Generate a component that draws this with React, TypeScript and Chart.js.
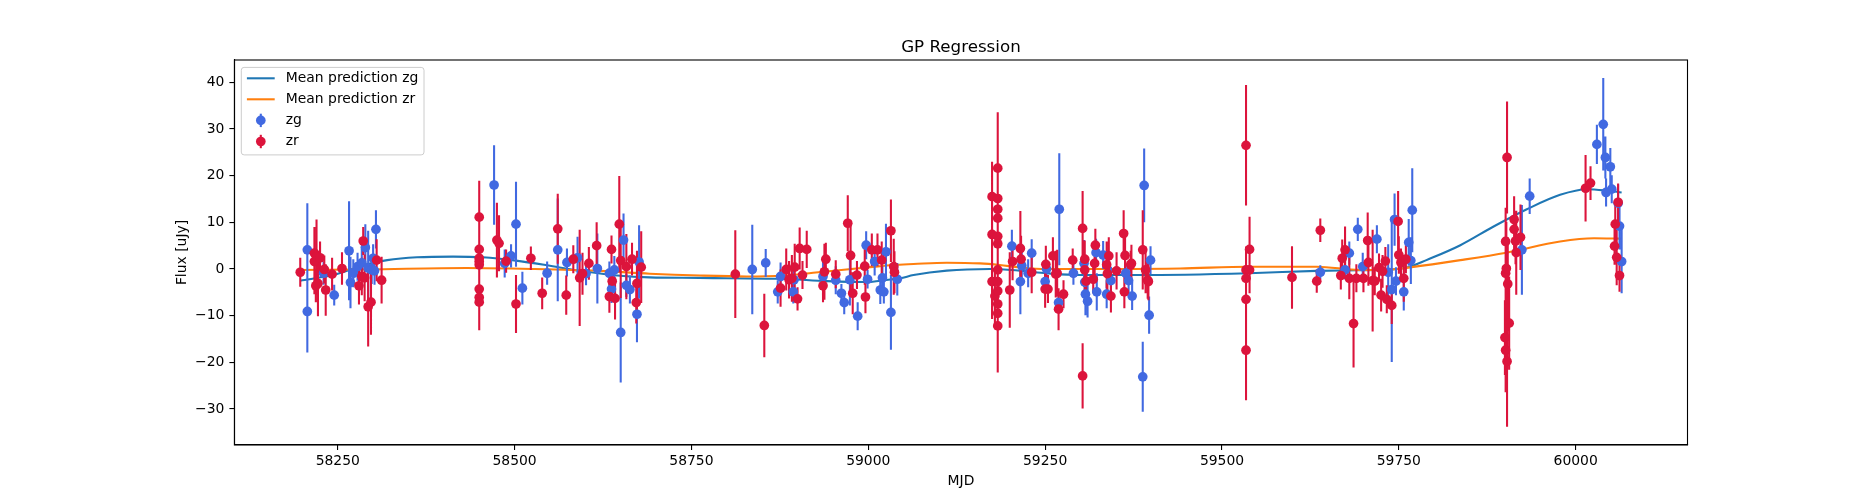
import { useEffect, useRef } from "react";
import { Chart, registerables } from "chart.js";
import type { ChartConfiguration, Plugin } from "chart.js";

Chart.register(...registerables);

const FONT = "'DejaVu Sans', sans-serif";
const ZG_COLOR = "#4169E1"; // royalblue
const ZR_COLOR = "#DC143C"; // crimson
const ZG_LINE = "#1f77b4";
const ZR_LINE = "#ff7f0e";

// ---- zg photometry: MJD, flux [uJy], 1-sigma error ----
const ZG_MJD = [
  58207, 58207, 58230, 58245, 58266, 58268, 58272, 58278, 58284, 58289, 58293, 58298, 58300, 58302, 58304,
  58471, 58486, 58495, 58502, 58511, 58546, 58561, 58574, 58589, 58601, 58617, 58634, 58637, 58641, 58650, 58654, 58658, 58663, 58673, 58676,
  58836, 58855, 58872, 58876, 58894, 58895, 58936, 58954, 58962, 58966, 58974, 58985, 58997, 58999, 59009, 59017, 59020, 59022, 59025, 59032, 59041,
  59203, 59215, 59217, 59226, 59231, 59250, 59252, 59269, 59270, 59290, 59305, 59306, 59307, 59310, 59322, 59323, 59332, 59337, 59343, 59364, 59368, 59373, 59388, 59390, 59397, 59399,
  59639, 59674, 59680, 59692, 59699, 59719, 59735, 59740, 59744, 59746, 59757, 59764, 59767, 59769,
  59924, 59935, 60030, 60039, 60042, 60043, 60049, 60051, 60060, 60062, 60065,
];
const ZG_FLUX = [
  4.1, -9.1, -0.9, -5.6, 3.9, -2.9, -0.9, 0.5, 1.3, 4.6, 0.2, -0.2, 2.3, -0.4, 8.5,
  18.0, 1.2, 2.8, 9.6, -4.1, -0.9, 4.1, 1.4, 2.4, -1.0, 0.1, -0.9, -4.3, -0.2, -13.6, 6.2, -3.5, -4.4, -9.7, 1.5,
  -0.1, 1.3, -4.9, -1.6, -4.9, -2.3, -1.6, -2.4, -5.2, -7.2, -2.3, -10.1, 5.1, -2.2, 1.6, -4.5, -1.9, -4.9, 3.7, -9.3, -2.2,
  4.9, -2.7, 0.7, -0.9, 3.4, -2.7, 0.0, -7.2, 12.8, -0.9, 1.2, -2.8, -5.4, -6.9, 3.5, -4.9, 3.0, -5.4, -2.5, -0.9, -2.5, -5.8, -23.1, 17.9, -9.9, 1.9,
  -0.7, -0.2, 3.4, 8.5, 0.5, 6.4, -0.7, -4.4, 10.6, -2.6, -4.9, 5.7, 1.8, 12.6,
  4.1, 15.6, 26.7, 31.0, 23.9, 16.4, 21.9, 17.1, 14.1, 9.2, 1.6,
];
const ZG_ERR = [
  10, 8.8, 2.5, 2.2, 10.6, 5.5, 3, 3, 3, 5, 8, 3, 3, 3, 4.1,
  8.5, 3, 2.5, 9.1, 3.5, 2.5, 11, 3, 4.5, 2.5, 7.5, 2.5, 3, 3, 10.7, 5.7, 2.5, 3, 6, 7.9,
  9.6, 3, 2.5, 3, 2.5, 3, 4, 3, 2, 2.5, 5.5, 3, 3, 2, 3, 3, 2.5, 2.5, 6, 8, 3.5,
  3.5, 7, 3, 3, 3, 2.5, 2, 2, 12, 2.5, 5, 2.5, 4.5, 3.5, 3, 4, 3, 3, 3, 2, 3, 3, 7.5, 7.9, 4, 3,
  1.5, 2, 2.5, 2.5, 3, 3, 6, 15.5, 5.6, 3, 4, 5, 5, 9,
  9.6, 3.8, 4.2, 9.9, 4.5, 3, 4, 3, 4, 5, 6.8,
];

// ---- zr photometry: MJD, flux [uJy], 1-sigma error ----
const ZR_MJD = [
  58197, 58217, 58217, 58219, 58220, 58222, 58231, 58225, 58233, 58242, 58256, 58280, 58284, 58286, 58288, 58293, 58297, 58305, 58312,
  58450, 58450, 58450, 58450, 58450, 58450, 58450, 58450, 58475, 58478, 58488, 58502, 58523, 58539, 58561, 58573, 58583, 58592, 58596, 58605,
  58616, 58634, 58637, 58638, 58642, 58648, 58650, 58658, 58666, 58672, 58673, 58679,
  58812, 58853, 58876, 58884, 58888, 58892, 58896, 58900, 58903, 58907, 58913, 58936, 58938, 58940, 58954, 58971, 58975, 58978, 58984, 58995,
  58996, 59005, 59013, 59019, 59032, 59036, 59037,
  59175, 59175, 59175, 59179, 59183, 59183, 59183, 59183, 59183, 59183, 59183, 59183, 59183, 59183, 59183, 59183,
  59200, 59204, 59215, 59216, 59231, 59250, 59251, 59254, 59261, 59265, 59267, 59269, 59276, 59289, 59303, 59303, 59306, 59306,
  59308, 59318, 59320, 59321, 59337, 59338, 59340, 59343, 59351, 59361, 59362, 59363, 59371, 59372, 59388, 59392, 59395, 59396,
  59534, 59534, 59534, 59534, 59534, 59539, 59539, 59599, 59634, 59639, 59668, 59670, 59674, 59680, 59686, 59690,
  59700, 59706, 59707, 59713, 59716, 59722, 59725, 59727, 59731, 59733, 59740, 59749, 59750, 59753, 59757, 59760,
  59900, 59901, 59901, 59901, 59902, 59903, 59903, 59904, 59906, 59913, 59913, 59915, 59916, 59922,
  60014, 60021, 60055, 60056, 60058, 60060, 60062,
];
const ZR_FLUX = [
  -0.7, 3.4, 1.6, -3.6, 2.6, -3.1, -0.1, 2.4, -4.5, -1.1, 0.1, -3.6, -1.6, 6.0, -1.9, -8.1, -7.1, 1.9, -2.4,
  11.1, 4.2, 2.3, 1.6, 0.9, -4.3, -6.1, -7.1, 6.2, 5.5, 1.7, -7.5, 2.3, -5.2, 8.6, -5.6, 2.1, -1.9, -1.0, 1.2,
  5.0, -5.9, 4.2, -2.6, -6.3, 9.6, 1.8, 0.5, 2.1, -7.2, -3.1, 0.4,
  -1.1, -12.1, -4.1, -0.1, -2.3, -2.0, 0.4, -6.4, 4.4, -1.3, 4.2, -3.6, -0.6, 2.1, -1.1, 9.8, 2.9, -5.2, -1.3, 0.6,
  -6.0, 4.1, 4.1, 1.9, 8.2, 0.5, -0.7,
  15.5, 7.4, -2.7, -5.8, 21.6, 15.1, 12.8, 10.9, 7.0, 5.4, -0.2, -2.7, -4.7, -7.5, -9.5, -12.2,
  -4.5, 1.6, 4.4, 2.1, -0.7, -4.3, 1.0, -4.3, 2.8, -1.1, -0.9, -8.6, -5.4, 1.9, 8.7, -22.9, 2.1, -0.2,
  -2.6, -2.2, 1.2, 5.1, 0.9, -1.0, 2.8, -5.8, -0.4, 7.6, -4.9, 2.9, 0.9, 1.2, 4.1, -0.2, -2.4, -2.7,
  26.5, -0.2, -2.0, -6.5, -17.4, 4.2, -0.2, -1.8, -2.6, 8.3, -1.4, 2.3, 4.1, -2.0, -11.7, -2.0,
  -2.0, 6.1, 1.4, -2.5, -2.6, 0.3, -5.6, -0.5, 1.7, -6.5, -7.8, 10.2, 3.0, 1.4, -2.0, 2.1,
  -14.7, 5.9, -0.9, -17.4, 0.1, 23.9, -19.8, -3.2, -11.6, 10.6, 8.5, 6.0, 3.5, 6.8,
  17.3, 18.4, 4.9, 9.6, 2.5, 14.3, -1.4,
];
const ZR_ERR = [
  3.1, 5.6, 7, 3.5, 8, 7, 3, 3.5, 5.5, 3.5, 3.5, 4, 4, 3, 5, 8.5, 7, 4.5, 5,
  7.8, 5, 4, 4, 3, 6, 5, 6, 8, 6, 2.5, 6.2, 2.5, 3.4, 7.5, 4.2, 3, 10.3, 4.5, 3.5,
  5, 3.5, 3, 3, 4.5, 10.3, 8, 7, 3.5, 4.5, 7, 7.7,
  9.4, 6.8, 4, 4.5, 4, 5, 5, 2.5, 4.5, 3, 4, 3.5, 6, 3.5, 3, 6, 7.5, 4.5, 3, 4,
  3.5, 3.5, 3.5, 4, 6.7, 6, 4.5,
  7.5, 6, 8, 6, 12, 8, 7, 10, 9, 6, 10, 8, 7, 8, 7, 10,
  8.1, 4, 8, 5, 4.5, 4, 4, 3, 4, 5, 5, 4.5, 3, 2.5, 8, 7, 4, 6,
  4, 3, 4, 3.5, 5, 4.5, 4, 3.5, 4, 5, 3.5, 4, 3, 4, 8.5, 5, 4, 4,
  12.9, 5, 6, 10, 10.7, 7, 5, 6.7, 2.5, 2.5, 3, 4, 5, 4.5, 9.4, 3,
  3, 6, 5, 10.9, 3, 3, 3.5, 3.5, 3, 3, 4, 6.5, 4, 3, 5, 3,
  8, 6, 14, 9, 10, 12, 14, 10, 10, 5, 4.5, 5, 9, 7,
  7.1, 3.6, 4, 4.5, 6, 4, 3.5,
];

// ---- GP mean predictions ----
const MEAN_ZG_MJD = [
  58197, 58243, 58291, 58320, 58362, 58413, 58455, 58502, 58550, 58597, 58645, 58691, 58762, 58800, 58875,
  58942, 58998, 59017, 59045, 59064, 59111, 59172, 59214, 59252, 59299, 59384, 59538, 59634, 59675, 59740,
  59766, 59789, 59837, 59884, 59931, 59978, 60016, 60044, 60065,
];
const MEAN_ZG = [
  -2.5, -1.3, 1.0, 1.9, 2.5, 2.65, 2.5, 1.8, 0.7, -0.5, -1.4, -1.8, -1.9, -2.0, -2.1,
  -2.6, -2.8, -2.5, -2.0, -1.3, -0.35, 0.0, -0.35, -0.9, -1.3, -1.3, -0.9, -0.4, -0.3, -0.1,
  0.5, 1.9, 5.1, 9.1, 12.8, 15.9, 17.1, 16.8, 16.4,
];
const MEAN_ZR_MJD = [
  58197, 58291, 58432, 58526, 58621, 58691, 58762, 58828, 58880, 58922, 58969, 59017, 59035, 59064, 59111,
  59158, 59186, 59214, 59252, 59346, 59441, 59538, 59634, 59695, 59740, 59766, 59837, 59902, 59978, 60026,
  60065,
];
const MEAN_ZR = [
  -0.2, -0.1, 0.2, 0.0, -0.4, -1.0, -1.4, -1.6, -1.4, -0.8, -0.1, 0.6, 0.86, 1.07, 1.35,
  1.2, 0.85, 0.35, 0.0, 0.0, 0.1, 0.5, 0.5, -0.2, -0.1, 0.35, 1.9, 3.5, 5.9, 6.6,
  6.5,
];

const X_TICKS = [58250, 58500, 58750, 59000, 59250, 59500, 59750, 60000];
const Y_TICKS = [-30, -20, -10, 0, 10, 20, 30, 40];
const X_RANGE = [58103.9, 60158.1];
const Y_RANGE = [-37.71, 44.78];

const TITLE = "GP Regression";
const X_LABEL = "MJD";
const Y_LABEL = "Flux [uJy]";
const LEGEND_LABELS = ["Mean prediction zg", "Mean prediction zr", "zg", "zr"];

const pts = (xs: number[], ys: number[]) => xs.map((x, i) => ({ x, y: ys[i] }));
const minus = (v: number | string) => String(v).replace("-", "\u2212");

// error bars under all markers (matplotlib draws markers at zorder 2.1)
const errorBarPlugin: Plugin<"scatter"> = {
  id: "errorBars",
  beforeDatasetDraw(chart, args) {
    if (args.index !== 1) return; // zg markers are the first marker set drawn
    const { ctx, chartArea } = chart;
    const xs = chart.scales.x;
    const ys = chart.scales.y;
    ctx.save();
    ctx.beginPath();
    ctx.rect(chartArea.left, chartArea.top, chartArea.width, chartArea.height);
    ctx.clip();
    ctx.lineWidth = 2.08;
    ctx.lineCap = "butt";
    const bars = (m: number[], f: number[], e: number[], color: string) => {
      ctx.strokeStyle = color;
      ctx.beginPath();
      m.forEach((mjd, i) => {
        const px = xs.getPixelForValue(mjd);
        ctx.moveTo(px, ys.getPixelForValue(f[i] + e[i]));
        ctx.lineTo(px, ys.getPixelForValue(f[i] - e[i]));
      });
      ctx.stroke();
    };
    bars(ZG_MJD, ZG_FLUX, ZG_ERR, ZG_COLOR);
    bars(ZR_MJD, ZR_FLUX, ZR_ERR, ZR_COLOR);
    ctx.restore();
  },
};

// frame, title, axis labels and the legend box
const decorPlugin: Plugin<"scatter"> = {
  id: "decor",
  afterDraw(chart) {
    const { ctx, chartArea: a } = chart;
    ctx.save();
    ctx.strokeStyle = "#000";
    ctx.lineWidth = 1.1;
    ctx.strokeRect(a.left, a.top, a.width, a.height);

    ctx.fillStyle = "#000";
    ctx.textAlign = "center";
    ctx.textBaseline = "alphabetic";
    ctx.font = `16.7px ${FONT}`;
    ctx.fillText(TITLE, (a.left + a.right) / 2, a.top - 8.3);

    ctx.font = `13.9px ${FONT}`;
    ctx.fillText(X_LABEL, (a.left + a.right) / 2, 485);

    ctx.save();
    ctx.translate(182, (a.top + a.bottom) / 2);
    ctx.rotate(-Math.PI / 2);
    ctx.textBaseline = "middle";
    ctx.fillText(Y_LABEL, 0, 0);
    ctx.restore();

    // legend
    const lx = a.left + 6.9;
    const ly = a.top + 7.4;
    const lw = 182.7;
    const lh = 87.5;
    ctx.beginPath();
    ctx.roundRect(lx, ly, lw, lh, 2.8);
    ctx.fillStyle = "rgba(255,255,255,0.8)";
    ctx.fill();
    ctx.strokeStyle = "#cccccc";
    ctx.lineWidth = 1;
    ctx.stroke();

    const rows = [78.3, 99.3, 120.4, 141.5];
    const hx0 = lx + 5.6;
    const hx1 = hx0 + 27.8;
    const hxm = (hx0 + hx1) / 2;
    ctx.lineWidth = 2.08;
    [ZG_LINE, ZR_LINE].forEach((c, i) => {
      ctx.strokeStyle = c;
      ctx.beginPath();
      ctx.moveTo(hx0, rows[i]);
      ctx.lineTo(hx1, rows[i]);
      ctx.stroke();
    });
    [ZG_COLOR, ZR_COLOR].forEach((c, i) => {
      const y = rows[i + 2];
      ctx.strokeStyle = c;
      ctx.beginPath();
      ctx.moveTo(hxm, y - 6.7);
      ctx.lineTo(hxm, y + 6.7);
      ctx.stroke();
      ctx.fillStyle = c;
      ctx.beginPath();
      ctx.arc(hxm, y, 4.85, 0, Math.PI * 2);
      ctx.fill();
    });
    ctx.fillStyle = "#000";
    ctx.textAlign = "left";
    ctx.textBaseline = "middle";
    ctx.font = `13.9px ${FONT}`;
    LEGEND_LABELS.forEach((t, i) => ctx.fillText(t, hx1 + 11.1, rows[i]));
    ctx.restore();
  },
};

export default function App() {
  const canvasRef = useRef<HTMLCanvasElement | null>(null);

  useEffect(() => {
    document.body.style.margin = "0";
    const ctx = canvasRef.current!.getContext("2d")!;
    Chart.defaults.font.family = FONT;

    const config: ChartConfiguration<"scatter"> = {
      type: "scatter",
      data: {
        datasets: [
          {
            label: "zr",
            data: pts(ZR_MJD, ZR_FLUX),
            backgroundColor: ZR_COLOR,
            borderWidth: 0,
            pointRadius: 4.85,
            order: 0,
          },
          {
            label: "zg",
            data: pts(ZG_MJD, ZG_FLUX),
            backgroundColor: ZG_COLOR,
            borderWidth: 0,
            pointRadius: 4.85,
            order: 1,
          },
          {
            label: "Mean prediction zr",
            data: pts(MEAN_ZR_MJD, MEAN_ZR),
            showLine: true,
            borderColor: ZR_LINE,
            borderWidth: 2.08,
            pointRadius: 0,
            cubicInterpolationMode: "monotone",
            order: 2,
          },
          {
            label: "Mean prediction zg",
            data: pts(MEAN_ZG_MJD, MEAN_ZG),
            showLine: true,
            borderColor: ZG_LINE,
            borderWidth: 2.08,
            pointRadius: 0,
            cubicInterpolationMode: "monotone",
            order: 3,
          },
        ],
      },
      options: {
        responsive: true,
        maintainAspectRatio: false,
        animation: false,
        events: [],
        layout: { padding: { top: 60, right: 187.5, bottom: 0, left: 0 } },
        plugins: {
          legend: { display: false },
          tooltip: { enabled: false },
          title: { display: false },
        },
        scales: {
          x: {
            type: "linear",
            min: X_RANGE[0],
            max: X_RANGE[1],
            afterBuildTicks: (s) => {
              s.ticks = X_TICKS.map((value) => ({ value }));
            },
            afterFit: (s) => {
              s.height = 55;
            },
            grid: { display: true, drawOnChartArea: false, drawTicks: true, tickLength: 5, color: "#000", lineWidth: 1.1 },
            border: { display: true, color: "#000", width: 1.1 },
            ticks: {
              color: "#000",
              font: { size: 13.9, family: FONT },
              padding: 3,
              maxRotation: 0,
              autoSkip: false,
              callback: (v) => String(v),
            },
          },
          y: {
            type: "linear",
            min: Y_RANGE[0],
            max: Y_RANGE[1],
            afterBuildTicks: (s) => {
              s.ticks = Y_TICKS.map((value) => ({ value }));
            },
            afterFit: (s) => {
              s.width = 234.4;
            },
            grid: { display: true, drawOnChartArea: false, drawTicks: true, tickLength: 5, color: "#000", lineWidth: 1.1 },
            border: { display: true, color: "#000", width: 1.1 },
            ticks: {
              color: "#000",
              font: { size: 13.9, family: FONT },
              padding: 5,
              autoSkip: false,
              callback: (v) => minus(v),
            },
          },
        },
      },
      plugins: [errorBarPlugin, decorPlugin],
    };

    const chart = new Chart(ctx, config);
    return () => chart.destroy();
  }, []);

  return (
    <div style={{ position: "relative", width: 1875, height: 500, background: "#fff" }}>
      <canvas ref={canvasRef} />
    </div>
  );
}
